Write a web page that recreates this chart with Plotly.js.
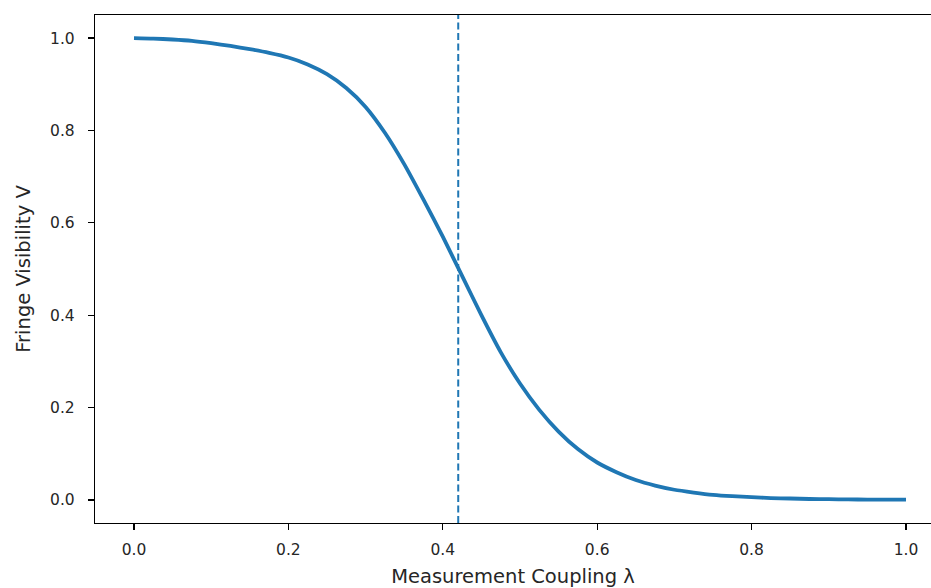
<!DOCTYPE html>
<html>
<head>
<meta charset="utf-8">
<script src="https://cdn.plot.ly/plotly-3.0.1.min.js"></script>
<style>
html, body { margin: 0; padding: 0; overflow: hidden; background: #fff; }
#chart { width: 931px; height: 588px; }
</style>
</head>
<body>
<div id="chart"></div>
<script>
const lambdaValues = [0.000, 0.025, 0.050, 0.075, 0.100, 0.125, 0.150, 0.175, 0.200, 0.225,
                      0.250, 0.275, 0.300, 0.325, 0.350, 0.375, 0.400, 0.425, 0.450, 0.475,
                      0.500, 0.525, 0.550, 0.575, 0.600, 0.625, 0.650, 0.675, 0.700, 0.725,
                      0.750, 0.775, 0.800, 0.825, 0.850, 0.875, 0.900, 0.925, 0.950, 0.975, 1.000];
const visibility   = [1.000, 0.999, 0.997, 0.994, 0.989, 0.983, 0.976, 0.968, 0.958, 0.943,
                      0.922, 0.892, 0.851, 0.795, 0.727, 0.650, 0.570, 0.485, 0.400, 0.320,
                      0.252, 0.195, 0.148, 0.110, 0.081, 0.060, 0.043, 0.031, 0.022, 0.016,
                      0.011, 0.008, 0.006, 0.004, 0.003, 0.002, 0.0015, 0.001, 0.0008, 0.0005, 0.0004];
const criticalLambda = 0.42;
const xTicks = [0.0, 0.2, 0.4, 0.6, 0.8, 1.0];
const yTicks = [0.0, 0.2, 0.4, 0.6, 0.8, 1.0];
const xTickLabels = ["0.0", "0.2", "0.4", "0.6", "0.8", "1.0"];
const yTickLabels = ["0.0", "0.2", "0.4", "0.6", "0.8", "1.0"];

const blue = "#1f77b4";
const font = "DejaVu Sans, sans-serif";

const traces = [
  {
    x: lambdaValues, y: visibility, type: "scatter", mode: "lines",
    line: {color: blue, width: 3.8, shape: "spline", smoothing: 0.6},
    hoverinfo: "skip", showlegend: false
  }
];

const layout = {
  width: 931, height: 588,
  margin: {l: 95, r: 0, t: 15, b: 65},
  paper_bgcolor: "#fff", plot_bgcolor: "#fff",
  font: {family: font, color: "#262626", size: 16},
  showlegend: false,
  xaxis: {
    range: [-0.0505, 1.0324], tickvals: xTicks, ticktext: xTickLabels,
    showgrid: false, zeroline: false,
    showline: true, mirror: true, linecolor: "#000", linewidth: 1.2,
    ticks: "outside", ticklen: 6, tickwidth: 1.2, tickcolor: "#000",
    ticklabelstandoff: 6,
    tickfont: {family: font, size: 15.5, color: "#262626"},
    title: {text: "Measurement Coupling λ", font: {family: font, size: 19.5, color: "#262626"}, standoff: 12}
  },
  yaxis: {
    range: [-0.05, 1.05], tickvals: yTicks, ticktext: yTickLabels,
    showgrid: false, zeroline: false,
    showline: true, mirror: false, linecolor: "#000", linewidth: 1.2,
    ticks: "outside", ticklen: 6, tickwidth: 1.2, tickcolor: "#000",
    ticklabelstandoff: 10,
    tickfont: {family: font, size: 15.5, color: "#262626"},
    title: {text: "Fringe Visibility V", font: {family: font, size: 19.5, color: "#262626"}, standoff: 14}
  },
  shapes: [
    {
      type: "line", xref: "x", yref: "paper",
      x0: criticalLambda, x1: criticalLambda, y0: 0, y1: 1,
      line: {color: blue, width: 2, dash: "7px,3.5px"}
    }
  ]
};

Plotly.newPlot("chart", traces, layout, {displayModeBar: false, staticPlot: true});
</script>
</body>
</html>
